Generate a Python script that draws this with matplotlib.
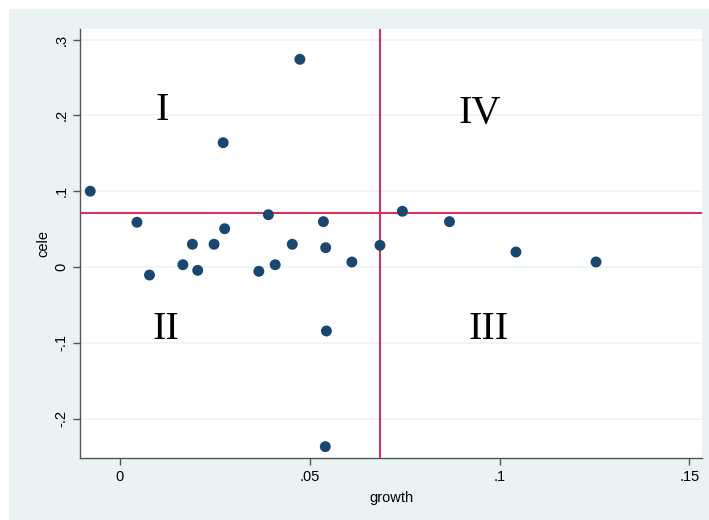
import numpy as np
import matplotlib.pyplot as plt
from matplotlib.patches import Rectangle

# growth vs cele
growth = [-0.0078, 0.0045, 0.0078, 0.0166, 0.0191, 0.0205, 0.0248, 0.0276, 0.0272,
          0.0366, 0.0391, 0.0409, 0.0454, 0.0474, 0.0536, 0.0542, 0.0544, 0.0541,
          0.0611, 0.0685, 0.0744, 0.0868, 0.1043, 0.1254]
cele = [0.100, 0.059, -0.0106, 0.003, 0.030, -0.0044, 0.030, 0.0505, 0.164,
        -0.0057, 0.069, 0.003, 0.030, 0.274, 0.0598, 0.0255, -0.0844, -0.237,
        0.0066, 0.0286, 0.0735, 0.0598, 0.0198, 0.0066]

x_mean = 0.0686
y_mean = 0.0712

xticks = [0, 0.05, 0.1, 0.15]
xtick_labels = ["0", ".05", ".1", ".15"]
yticks = [-0.2, -0.1, 0, 0.1, 0.2, 0.3]
ytick_labels = ["-.2", "-.1", "0", ".1", ".2", ".3"]

quadrants = ["I", "II", "III", "IV"]
quad_x = [0.0112, 0.0122, 0.0970, 0.0949]
quad_y = [0.207, -0.082, -0.082, 0.203]

bg = "#eaf2f3"
navy = "#1a476f"
red = "#d3335a"

plt.rcParams["font.family"] = ["Liberation Sans", "DejaVu Sans"]

fig = plt.figure(figsize=(7.09, 5.2), dpi=100, facecolor="white")
fig.patches.append(Rectangle((9 / 709, 0), 1, 511 / 520, transform=fig.transFigure,
                             facecolor=bg, edgecolor="none", zorder=-10))

ax = fig.add_axes([80 / 709, 62 / 520, 622 / 709, 429 / 520])
ax.set_facecolor("white")

ax.set_xlim(-0.0105, 0.1533)
ax.set_ylim(-0.252, 0.314)

for y in yticks:
    ax.axhline(y, color="#eef3f4", lw=1.2, zorder=0)

ax.axvline(x_mean, color=red, lw=1.5, zorder=2)
ax.axhline(y_mean, color=red, lw=1.5, zorder=2)

ax.scatter(growth, cele, s=62, color=navy, edgecolors="none", zorder=3)

for lab, qx, qy in zip(quadrants, quad_x, quad_y):
    ax.text(qx, qy, lab, fontsize=29, family=["Liberation Serif", "DejaVu Serif"],
            ha="center", va="center", color="black")

ax.set_xticks(xticks)
ax.set_xticklabels(xtick_labels)
ax.set_yticks(yticks)
ax.set_yticklabels(ytick_labels, rotation=90, va="center")

for side in ["top", "right"]:
    ax.spines[side].set_visible(False)
for side in ["left", "bottom"]:
    ax.spines[side].set_color("#555555")
    ax.spines[side].set_linewidth(1.0)

ax.tick_params(axis="both", colors="#555555", labelcolor="black", labelsize=10.5,
               length=5, width=1.0)

ax.set_xlabel("growth", fontsize=10.5, labelpad=5)
ax.set_ylabel("cele", fontsize=10.5, labelpad=3)

fig.savefig("out.png", dpi=100, facecolor="white")
